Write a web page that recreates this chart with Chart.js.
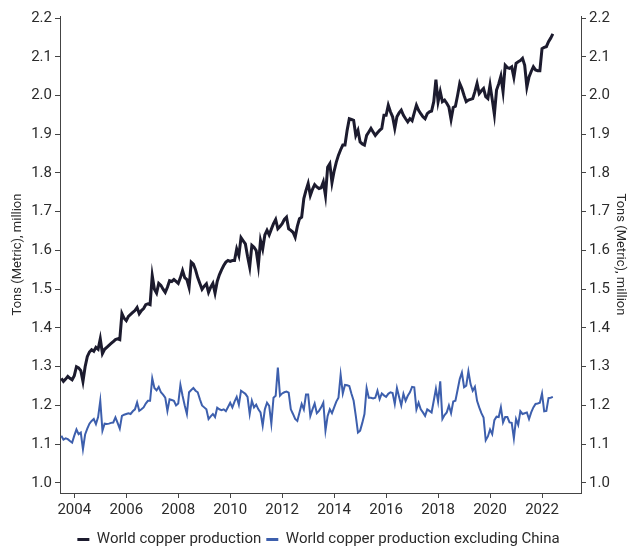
<!DOCTYPE html>
<html>
<head>
<meta charset="utf-8">
<script src="https://cdn.jsdelivr.net/npm/chart.js@4.4.1/dist/chart.umd.min.js"></script>
<style>
  html, body { margin: 0; padding: 0; background: #fff; }
  #wrap { width: 637px; height: 552px; }
</style>
</head>
<body>
<div id="wrap"><canvas id="copperChart" width="637" height="552"></canvas></div>
<script>
// monthly series, first month = July 2003
const startMonth = 2003.5;
const yearTicks = [2004, 2006, 2008, 2010, 2012, 2014, 2016, 2018, 2020, 2022];
const valueTicks = [1.0, 1.1, 1.2, 1.3, 1.4, 1.5, 1.6, 1.7, 1.8, 1.9, 2.0, 2.1, 2.2];

// World copper production, million metric tons
const worldProduction = [
  1.270, 1.262, 1.268, 1.275, 1.270, 1.266, 1.277, 1.300, 1.297, 1.290,
  1.262, 1.300, 1.326, 1.338, 1.344, 1.340, 1.350, 1.345, 1.372, 1.334,
  1.345, 1.350, 1.355, 1.360, 1.365, 1.370, 1.372, 1.370, 1.437, 1.425,
  1.419, 1.430, 1.435, 1.440, 1.445, 1.453, 1.437, 1.445, 1.450, 1.460,
  1.462, 1.460, 1.535, 1.500, 1.490, 1.515, 1.510, 1.500, 1.492, 1.505,
  1.522, 1.520, 1.525, 1.520, 1.515, 1.530, 1.548, 1.530, 1.525, 1.505,
  1.570, 1.565, 1.550, 1.530, 1.515, 1.500, 1.508, 1.514, 1.492, 1.505,
  1.515, 1.490, 1.520, 1.537, 1.550, 1.561, 1.570, 1.574, 1.572, 1.574,
  1.574, 1.604, 1.587, 1.633, 1.625, 1.617, 1.585, 1.557, 1.613, 1.608,
  1.600, 1.561, 1.626, 1.604, 1.640, 1.652, 1.640, 1.655, 1.669, 1.680,
  1.656, 1.662, 1.669, 1.680, 1.686, 1.656, 1.652, 1.647, 1.634, 1.662,
  1.682, 1.686, 1.734, 1.755, 1.773, 1.742, 1.758, 1.770, 1.764, 1.760,
  1.762, 1.777, 1.742, 1.815, 1.824, 1.775, 1.805, 1.828, 1.846, 1.860,
  1.872, 1.872, 1.910, 1.940, 1.938, 1.936, 1.897, 1.910, 1.880, 1.875,
  1.872, 1.897, 1.906, 1.915, 1.906, 1.897, 1.904, 1.910, 1.915, 1.949,
  1.949, 1.975, 1.958, 1.945, 1.915, 1.945, 1.955, 1.962, 1.949, 1.940,
  1.932, 1.940, 1.935, 1.955, 1.975, 1.962, 1.953, 1.945, 1.940, 1.953,
  1.958, 1.960, 1.984, 2.041, 1.984, 2.010, 1.984, 1.988, 1.980, 1.970,
  1.938, 1.969, 1.972, 2.000, 2.031, 2.018, 2.000, 1.984, 1.988, 1.990,
  1.992, 2.010, 2.031, 2.005, 2.012, 2.018, 1.997, 1.992, 2.027, 1.990,
  1.951, 2.014, 2.030, 2.050, 2.010, 2.078, 2.072, 2.070, 2.074, 2.047,
  2.083, 2.087, 2.090, 2.096, 2.078, 2.022, 2.048, 2.062, 2.074, 2.066,
  2.064, 2.064, 2.121, 2.124, 2.126, 2.139, 2.148, 2.159
];

// World copper production excluding China
const worldExChina = [
  1.122, 1.112, 1.115, 1.113, 1.108, 1.104, 1.122, 1.138, 1.126, 1.130,
  1.087, 1.125, 1.140, 1.153, 1.160, 1.165, 1.152, 1.170, 1.212, 1.135,
  1.153, 1.152, 1.153, 1.155, 1.156, 1.169, 1.155, 1.140, 1.173, 1.176,
  1.178, 1.180, 1.178, 1.185, 1.190, 1.208, 1.186, 1.190, 1.195, 1.205,
  1.212, 1.212, 1.270, 1.245, 1.239, 1.248, 1.234, 1.228, 1.220, 1.186,
  1.216, 1.214, 1.212, 1.200, 1.205, 1.253, 1.225, 1.200, 1.178, 1.234,
  1.240, 1.245, 1.238, 1.234, 1.216, 1.200, 1.195, 1.190, 1.165, 1.172,
  1.178, 1.170, 1.194, 1.190, 1.188, 1.190, 1.185, 1.196, 1.207, 1.195,
  1.210, 1.222, 1.202, 1.238, 1.234, 1.230, 1.222, 1.178, 1.212, 1.195,
  1.202, 1.190, 1.182, 1.148, 1.190, 1.207, 1.199, 1.153, 1.220, 1.225,
  1.298, 1.225, 1.231, 1.234, 1.236, 1.233, 1.190, 1.178, 1.165, 1.160,
  1.182, 1.204, 1.190, 1.228, 1.228, 1.173, 1.190, 1.205, 1.180, 1.186,
  1.195, 1.207, 1.135, 1.173, 1.190, 1.180, 1.195, 1.210, 1.220, 1.279,
  1.231, 1.253, 1.252, 1.250, 1.230, 1.212, 1.173, 1.130, 1.135, 1.155,
  1.178, 1.245, 1.220, 1.220, 1.218, 1.220, 1.238, 1.216, 1.231, 1.226,
  1.222, 1.230, 1.234, 1.232, 1.204, 1.245, 1.222, 1.200, 1.230, 1.212,
  1.225, 1.234, 1.248, 1.247, 1.190, 1.207, 1.190, 1.182, 1.173, 1.190,
  1.186, 1.182, 1.212, 1.243, 1.210, 1.262, 1.165, 1.175, 1.182, 1.200,
  1.180, 1.210, 1.212, 1.240, 1.268, 1.285, 1.247, 1.251, 1.288, 1.255,
  1.238, 1.248, 1.212, 1.195, 1.180, 1.169, 1.110, 1.120, 1.138, 1.126,
  1.162, 1.171, 1.170, 1.195, 1.156, 1.170, 1.170, 1.156, 1.155, 1.115,
  1.165, 1.150, 1.185, 1.178, 1.180, 1.182, 1.165, 1.182, 1.195, 1.204,
  1.205, 1.207, 1.231, 1.185, 1.186, 1.219, 1.220, 1.222
];

const months = worldProduction.map((_, i) => startMonth + i / 12);
const toPoints = (vals) => vals.map((v, i) => ({ x: months[i], y: v }));

const tickFont = { family: "Roboto", size: 15 };
const titleFont = { family: "Roboto", size: 13 };
const inkColor = "#2b2b2b";

function yTicksFixed(scale) {
  scale.ticks = valueTicks.map((v) => ({ value: v }));
}

const ctx = document.getElementById("copperChart").getContext("2d");
new Chart(ctx, {
  type: "line",
  data: {
    datasets: [
      {
        label: "World copper production",
        data: toPoints(worldProduction),
        borderColor: "#1c1b2e",
        backgroundColor: "#1c1b2e",
        borderWidth: 3,
        pointRadius: 0,
        tension: 0,
        yAxisID: "y",
      },
      {
        label: "World copper production excluding China",
        data: toPoints(worldExChina),
        borderColor: "#3d5fad",
        backgroundColor: "#3d5fad",
        borderWidth: 2,
        pointRadius: 0,
        tension: 0,
        yAxisID: "y",
      },
    ],
  },
  options: {
    responsive: false,
    animation: false,
    devicePixelRatio: 1,
    layout: { padding: { top: 16, left: 0, right: 0, bottom: -5 } },
    plugins: {
      tooltip: { enabled: false },
      legend: {
        position: "bottom",
        labels: {
          color: inkColor,
          font: { family: "Roboto", size: 15 },
          boxWidth: 12,
          boxHeight: 3,
          padding: 5,
          generateLabels(chart) {
            return Chart.defaults.plugins.legend.labels
              .generateLabels(chart)
              .map((l) => ({ ...l, lineWidth: 0 }));
          },
        },
      },
    },
    scales: {
      x: {
        type: "linear",
        min: 2003.45,
        max: 2023.5,
        afterBuildTicks: (scale) => {
          scale.ticks = yearTicks.map((v) => ({ value: v }));
        },
        afterFit: (scale) => { scale.height = 34; },
        grid: { drawOnChartArea: false, drawTicks: true, tickLength: 5, color: "#444" },
        border: { color: "#444", width: 1 },
        ticks: {
          color: inkColor,
          font: tickFont,
          padding: 3,
          maxRotation: 0,
          callback: (v) => String(v),
        },
      },
      y: {
        type: "linear",
        position: "left",
        min: 0.974,
        max: 2.2052,
        afterBuildTicks: yTicksFixed,
        afterFit: (scale) => { scale.width = 60; },
        grid: { drawOnChartArea: false, drawTicks: true, tickLength: 5, color: "#444" },
        border: { color: "#444", width: 1 },
        ticks: { color: inkColor, font: tickFont, padding: 3, callback: (v) => v.toFixed(1) },
        title: {
          display: true,
          text: "Tons (Metric), million",
          color: inkColor,
          font: titleFont,
          padding: { top: 10, bottom: 0 },
        },
      },
      y2: {
        type: "linear",
        position: "right",
        display: true,
        min: 0.974,
        max: 2.2052,
        afterBuildTicks: yTicksFixed,
        afterFit: (scale) => { scale.width = 56; },
        grid: { drawOnChartArea: false, drawTicks: true, tickLength: 5, color: "#444" },
        border: { color: "#444", width: 1 },
        ticks: { color: inkColor, font: tickFont, padding: 3, callback: (v) => v.toFixed(1) },
        title: {
          display: true,
          text: "Tons (Metric), million",
          color: inkColor,
          font: titleFont,
          padding: { top: 9, bottom: 0 },
        },
      },
    },
  },
});
</script>
</body>
</html>
